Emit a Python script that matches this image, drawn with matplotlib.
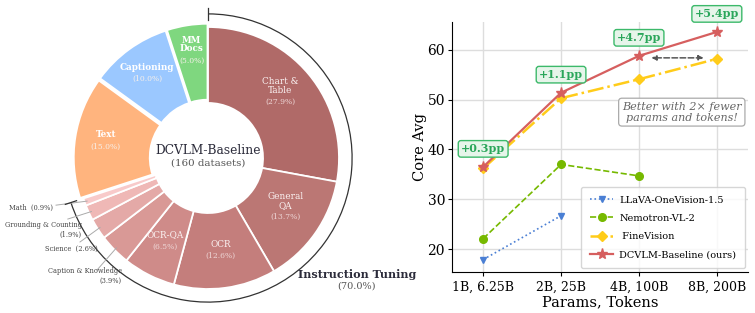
import numpy as np
import matplotlib
matplotlib.use("Agg")
import matplotlib.pyplot as plt
from matplotlib.patches import Arc

plt.rcParams['font.family'] = ['DejaVu Serif']

# ---------------- data ----------------
inst_labels = ["Chart &\nTable", "General\nQA", "OCR", "OCR-QA",
               "Caption & Knowledge", "Science", "Grounding & Counting", "Math"]
inst_values = [27.9, 13.7, 12.6, 6.5, 3.9, 2.6, 1.9, 0.9]
other_labels = ["Text", "Captioning", "MM\nDocs"]
other_values = [15.0, 10.0, 5.0]

inst_colors = ["#b06a68", "#bb7774", "#c47e7c", "#cf8b89", "#d99996",
               "#e4a9a7", "#efb8b6", "#f8caca"]
other_colors = ["#ffb47e", "#9bc8ff", "#7fd77f"]

x_labels = ["1B, 6.25B", "2B, 25B", "4B, 100B", "8B, 200B"]
llava = [17.9, 26.7]
nemotron = [22.1, 37.0, 34.7]
finevision = [36.2, 50.3, 54.1, 58.2]
dcvlm = [36.5, 51.4, 58.8, 63.6]
gains = ["+0.3pp", "+1.1pp", "+4.7pp", "+5.4pp"]

W, H = 755, 313
fig = plt.figure(figsize=(W / 100, H / 100), dpi=100)

# ---------------- donut ----------------
R_PX = 131.0
cx, cy = 208.0, 313 - 158.0
axw, axh = 415.0, 313.0
axp = fig.add_axes([0, 0, axw / W, axh / H])
axp.axis('off')

values = inst_values + other_values
colors = inst_colors + other_colors
explode = [0] * len(inst_values) + [0.025] * len(other_values)
wedges, _ = axp.pie(values, colors=colors, startangle=90, counterclock=False,
                    radius=1.0, explode=explode,
                    wedgeprops=dict(width=0.58, edgecolor='white', linewidth=1.3))
axp.set_aspect('auto')
axp.set_xlim(-cx / R_PX, (axw - cx) / R_PX)
axp.set_ylim(-cy / R_PX, (axh - cy) / R_PX)

total = sum(values)
cum = np.cumsum([0] + values)
mids = [90 - (cum[i] + values[i] / 2) / total * 360 for i in range(len(values))]

# inner labels for big instruction slices
for i in range(4):
    a = np.deg2rad(mids[i])
    r = 0.72
    x, y = r * np.cos(a), r * np.sin(a)
    axp.text(x, y + 0.02, inst_labels[i], ha='center', va='bottom', fontsize=6.4,
             color='#fbf3f3', linespacing=0.95)
    axp.text(x, y - 0.035, f"({inst_values[i]:.1f}%)", ha='center', va='center',
             fontsize=5.5, color='#eed6d6')

# other slices labels (bold)
for j in range(len(other_values)):
    i = len(inst_values) + j
    a = np.deg2rad(mids[i])
    r = 0.79
    x, y = r * np.cos(a), r * np.sin(a)
    axp.text(x, y + 0.02, other_labels[j], ha='center', va='bottom', fontsize=6.3,
             color='white', fontweight='bold', linespacing=0.95)
    axp.text(x, y - 0.035, f"({other_values[j]:.1f}%)", ha='center', va='center',
             fontsize=5.5, color='#f7f0ea')

# small slice labels with leader lines
small = {
    7: ("Math  (0.9%)", (-1.183, -0.382), (-1.16, -0.36)),
    6: ("Grounding & Counting\n(1.9%)", (-0.962, -0.55), (-1.07, -0.466)),
    5: ("Science  (2.6%)", (-0.84, -0.695), (-0.977, -0.641)),
    4: ("Caption & Knowledge\n(3.9%)", (-0.656, -0.90), (-0.847, -0.855)),
}
for i, (txt, tpos, lend) in small.items():
    a = np.deg2rad(mids[i])
    x0, y0 = 0.98 * np.cos(a), 0.98 * np.sin(a)
    axp.plot([x0, lend[0]], [y0, lend[1]], color='#aaaaaa', lw=0.7)
    axp.text(tpos[0], tpos[1], txt, ha='right', va='center', fontsize=4.8,
             color='#444444', multialignment='right', linespacing=1.2)

# center text
axp.text(0, 0.06, "DCVLM-Baseline", ha='center', va='center', fontsize=8.8, color='#2b2b3a')
axp.text(0, -0.035, "(160 datasets)", ha='center', va='center', fontsize=7.4, color='#555555')

# bracket arc
inst_total = sum(inst_values)
t_end = 90 - inst_total / total * 360
rb = 1.1
axp.add_patch(Arc((0, 0), 2 * rb, 2 * rb, theta1=t_end, theta2=90, color='#333333', lw=0.9))
for t in (90, t_end):
    a = np.deg2rad(t)
    axp.plot([1.055 * np.cos(a), 1.145 * np.cos(a)], [1.055 * np.sin(a), 1.145 * np.sin(a)],
             color='#333333', lw=0.9)
axp.text(1.137, -0.893, "Instruction Tuning", ha='center', va='center', fontsize=8,
         fontweight='bold', color='#2b2b3a')
axp.text(1.137, -0.977, f"({inst_total:.1f}%)", ha='center', va='center', fontsize=7,
         color='#555555')

# ---------------- line chart ----------------
ax = fig.add_axes([452 / W, (313 - 272) / H, (748 - 452) / W, (272 - 22) / H])
xs = np.arange(len(x_labels))
ax.plot(xs[:len(llava)], llava, color='#4a7fd4', ls=':', lw=1.2, marker='v', ms=5,
        label='LLaVA-OneVision-1.5')
ax.plot(xs[:len(nemotron)], nemotron, color='#76b900', ls='--', lw=1.2, marker='o', ms=5.5,
        label='Nemotron-VL-2')
ax.plot(xs, finevision, color='#ffcc1a', ls='-.', lw=1.8, marker='D', ms=5,
        label=' FineVision')
ax.plot(xs, dcvlm, color='#d65f5f', ls='-', lw=1.6, marker='*', ms=8,
        label='DCVLM-Baseline (ours)')

ax.set_xlim(-0.4, 3.4)
ax.set_ylim(15.4, 65.6)
ax.set_xticks(xs)
ax.set_xticklabels(x_labels, fontsize=9)
ax.set_yticks([20, 30, 40, 50, 60])
ax.tick_params(axis='y', labelsize=10, pad=2)
ax.tick_params(length=3)
ax.grid(True, color='#dddddd', lw=1.0)
ax.set_axisbelow(True)
for s in ('top', 'right'):
    ax.spines[s].set_visible(False)
ax.set_xlabel("Params, Tokens", fontsize=10.5, labelpad=1)
ax.set_ylabel("Core Avg", fontsize=10.5, labelpad=0)

for i, g in enumerate(gains):
    ax.annotate(g, (xs[i], dcvlm[i]), xytext=(0, 13), textcoords='offset points',
                ha='center', va='center', fontsize=8, fontweight='bold', color='#2aa65a',
                annotation_clip=False,
                bbox=dict(boxstyle='round,pad=0.25', fc='#e6f5ea', ec='#3cb96a', lw=1.0))

ax.annotate("", xy=(2.16, 58.4), xytext=(2.83, 58.4),
            arrowprops=dict(arrowstyle='<|-|>', ls='--', color='#555555', lw=1.1,
                            mutation_scale=7, shrinkA=0, shrinkB=0))
ax.text(2.55, 47.5, "Better with 2\u00d7 fewer\nparams and tokens!", ha='center', va='center',
        fontsize=8, style='italic', color='#666666', linespacing=1.15,
        bbox=dict(boxstyle='round,pad=0.3', fc='white', ec='#aaaaaa', lw=0.9))

ax.legend(loc='lower right', fontsize=7, frameon=True, fancybox=True,
          edgecolor='#cccccc', borderpad=0.9, labelspacing=0.95, handlelength=2.4,
          handletextpad=0.6, borderaxespad=0, bbox_to_anchor=(0.99, 0.016))

fig.savefig("out.png", dpi=100)
